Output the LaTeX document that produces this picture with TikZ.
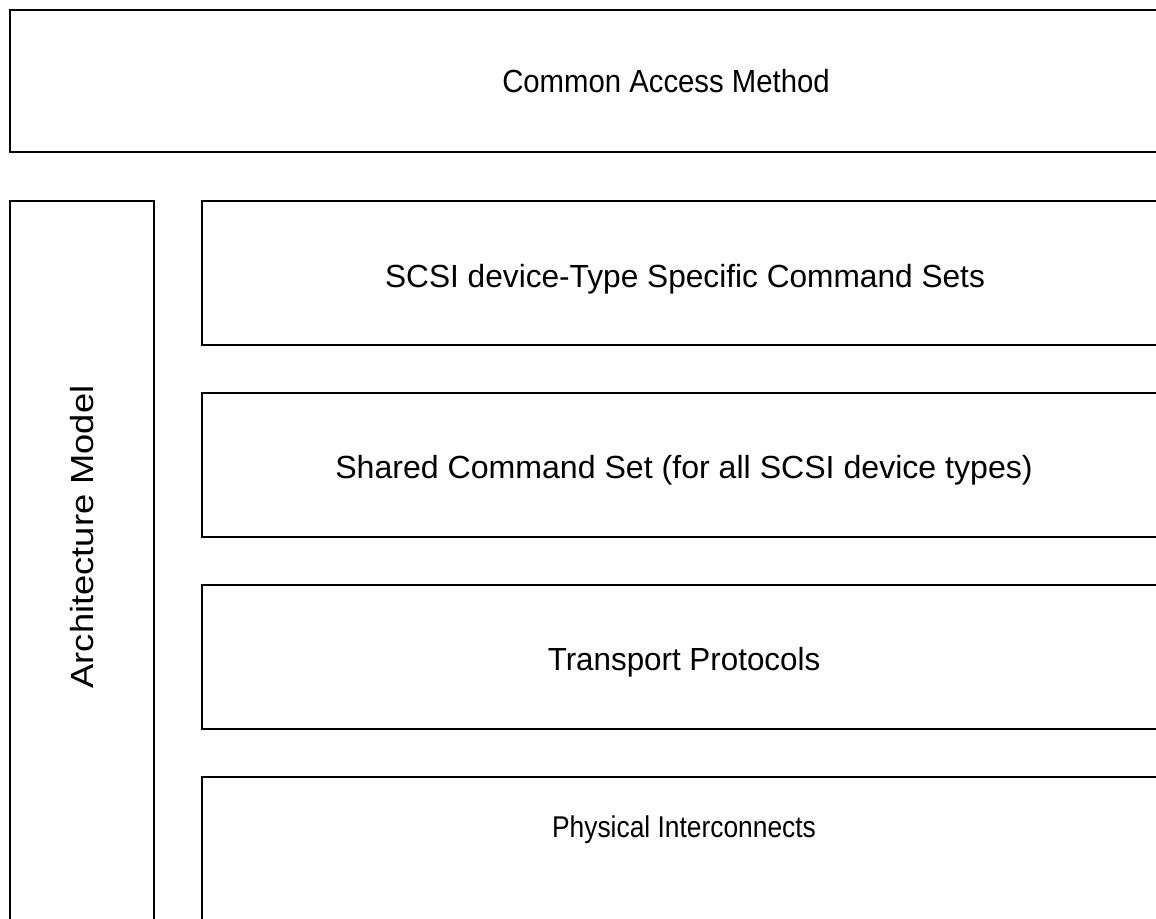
\documentclass[tikz,border=0pt]{standalone}
\usepackage{fontspec}
\setmainfont{Liberation Sans}
\usepackage{tikz}
\tikzset{
    layerbox/.style = {draw=black, line width=1.1pt},
    layertext/.style = {align=center, inner sep=0pt, font=\fontsize{16}{19}\selectfont},
}
% squeeze or stretch a label sideways to the width it has in the drawing
\newcommand{\widelabel}[2]{\scalebox{#1}[1]{#2}}

\begin{document}
\begin{tikzpicture}[x=0.5pt, y=-0.5pt]
\useasboundingbox (0,0) rectangle (1156,918);
\clip (0,0) rectangle (1156,918);
\draw[layerbox] (10,10) rectangle (1330,152);
\draw[layerbox] (10,201) rectangle (154,980);
\draw[layerbox] (202,201) rectangle (1200,345);
\draw[layerbox] (202,393) rectangle (1200,537);
\draw[layerbox] (202,585) rectangle (1200,729);
\draw[layerbox] (202,777) rectangle (1200,980);
\node[layertext] at (666,81) (cam) {\widelabel{0.916}{Common Access Method}};
\node[layertext, rotate=90] at (82,537) (arch) {\widelabel{1.135}{Architecture Model}};
\node[layertext] at (685,279) (scsi) {\widelabel{0.989}{SCSI device-Type Specific Command Sets}};
\node[layertext] at (684,470) (shared) {\widelabel{1.003}{Shared Command Set (for all SCSI device types)}};
\node[layertext] at (684,662) (transport) {\widelabel{0.98}{Transport Protocols}};
\node[layertext, font=\fontsize{15}{18}\selectfont] at (684,830) (phys) {\widelabel{0.879}{Physical Interconnects}};
\end{tikzpicture}
\end{document}
